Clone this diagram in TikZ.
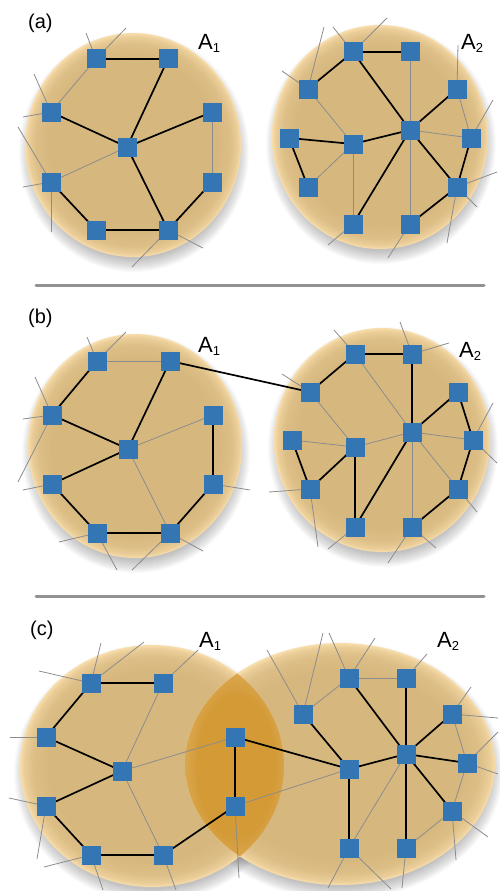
\documentclass[tikz,border=0pt]{standalone}
\usepackage{fontspec}
\setmainfont{Liberation Sans}
\pgfdeclarelayer{disks}
\pgfdeclarelayer{edges}
\pgfsetlayers{disks,edges,main}
\definecolor{dkin}{HTML}{D6B87F}
\definecolor{dkmid}{HTML}{DCBE86}
\definecolor{dkmid2}{HTML}{EACD98}
\definecolor{dkrim}{HTML}{F8DEAC}
\definecolor{lensin}{HTML}{D39A36}
\definecolor{lensout}{HTML}{DCA955}
\definecolor{nodeblue}{HTML}{3475B3}
\definecolor{edgegray}{HTML}{8C8C8C}
\definecolor{sepgray}{HTML}{929292}
\pgfdeclareradialshading{diskshade}{\pgfpoint{0bp}{0bp}}{color(0bp)=(dkin); color(19.5bp)=(dkin); color(22.5bp)=(dkmid); color(24.2bp)=(dkmid2); color(25bp)=(dkrim); color(50bp)=(dkrim)}
\pgfdeclareradialshading{lensshade}{\pgfpoint{0bp}{0bp}}{color(0bp)=(lensin); color(18bp)=(lensin); color(25bp)=(lensout); color(50bp)=(lensout)}
\tikzset{
  nd/.style={fill=nodeblue, minimum size=19pt, inner sep=0pt, outer sep=0pt},
  blk/.style={line width=1.7pt, black},
  gry/.style={line width=0.8pt, edgegray},
  sepline/.style={line width=3pt, sepgray, line cap=round},
  lbl/.style={anchor=base west, inner sep=0pt, font=\fontsize{20}{20}\selectfont},
  albl/.style={anchor=base west, inner sep=0pt, font=\fontsize{22}{22}\selectfont},
}
\newcommand\diskshadow[4]{%
  \foreach \k in {1,...,14}{\fill[black,opacity=0.02] (#1+1,#2+7) ellipse [x radius={(#3-7+\k)*1pt}, y radius={(#4-6+\k)*1pt}];}}
\newcommand\diskbody[4]{\shade[shading=diskshade] (#1,#2) ellipse [x radius=#3pt, y radius=#4pt];}
\newcommand\Asub[1]{A\raisebox{-3pt}{\fontsize{13}{13}\selectfont #1}}
\begin{document}
\begin{tikzpicture}[x=1pt,y=-1pt]
\useasboundingbox (0,0) rectangle (499,891);
% ---------- disks ----------
\begin{pgfonlayer}{disks}
  \diskshadow{133}{145}{108}{112}
  \diskshadow{380}{137}{108}{112}
  \diskshadow{135}{446}{107}{112}
  \diskshadow{382}{440}{108}{112}
  \diskshadow{152}{766}{132}{121}
  \diskshadow{340}{764}{155}{121}
  \diskbody{133}{145}{108}{112}
  \diskbody{380}{137}{108}{112}
  \diskbody{135}{446}{107}{112}
  \diskbody{382}{440}{108}{112}
  \diskbody{152}{766}{132}{121}
  \diskbody{340}{764}{155}{121}
  \begin{scope}
    \clip (152,766) ellipse [x radius=132pt, y radius=121pt];
    \clip (340,764) ellipse [x radius=155pt, y radius=121pt];
    \shade[shading=lensshade] (236,766) ellipse [x radius=54pt, y radius=98pt];
  \end{scope}
\end{pgfonlayer}
% ---------- separators ----------
\coordinate (sa1) at (36,285); \coordinate (sa2) at (484,285);
\coordinate (sb1) at (36,596); \coordinate (sb2) at (484,596);
\draw[sepline] (sa1) -- (sa2);
\draw[sepline] (sb1) -- (sb2);
% ---------- nodes ----------
\foreach \n/\x/\y in {
  a1/96/59, a2/168/59, a3/51/112, a4/212/112, a5/127/147, a6/51/182, a7/212/182, a8/96/230, a9/168/230,
  b1/353/52, b2/410/52, b3/308/89, b4/457/89, b5/289/138, b6/353/144, b7/410/130, b8/471/138, b9/308/187, b10/457/187, b11/353/224, b12/410/224,
  c1/97/361, c2/170/361, c3/52/415, c4/213/415, c5/128/449, c6/52/484, c7/213/484, c8/97/533, c9/170/533,
  d1/355/354, d2/412/354, d3/310/392, d4/458/392, d5/292/440, d6/355/447, d7/412/432, d8/473/440, d9/310/489, d10/458/489, d11/355/527, d12/412/527,
  e1/91/683, e2/163/683, e3/46/737, e4/122/771, e5/46/806, e6/91/855, e7/163/855, e8/235/737, e9/235/806,
  f1/349/678, f2/406/678, f3/303/714, f4/452/714, f5/349/769, f6/406/754, f7/467/763, f8/452/811, f9/349/848, f10/406/848}
  {\node[nd] (\n) at (\x,\y) {};}
% ---------- edges ----------
\begin{pgfonlayer}{edges}
\foreach \u/\v in {
  a1/a3, a4/a7, a5/a6,
  b2/b7, b7/b12, b3/b6, b6/b9, b6/b11, b7/b8, b4/b8,
  c1/c2, c5/c4, c5/c9,
  d1/d7, d3/d6, d5/d6, d6/d7, d7/d8, d7/d10, d7/d12,
  e2/e4, e4/e7, e4/e8, e9/f5,
  f1/f2, f1/f3, f4/f7, f7/f8, f8/f10, f6/f9}
  {\draw[gry] (\u.center) -- (\v.center);}
\foreach \n/\x/\y [count=\i] in {
  a1/86/33, a1/126/28, a3/34/74, a3/23/117, a6/18/127, a6/23/187, a6/51/232, a9/132/267, a9/203/248,
  b1/333/27, b1/387/18, b3/324/27, b3/282/71, b4/458/45, b8/493/100, b10/497/172, b10/477/207, b10/447/243, b11/328/245, b12/388/258,
  c1/87/337, c1/126/332, c3/35/377, c3/23/419, c3/18/482, c6/23/490, c7/250/490, c8/59/542, c8/117/570, c9/132/570, c9/203/551,
  d1/334/330, d2/400/322, d2/449/343, d3/282/374, d8/493/403, d8/497/463, d9/269/492, d9/318/547, d10/477/512, d11/328/549, d12/388/563, d12/436/548,
  e1/101/643, e1/144/642, e1/39/671, e2/198/650, e3/10/737, e5/9/798, e5/37/859, e6/44/867, e6/103/890, e7/176/890, e9/239/878,
  f3/267/650, f3/323/633, f1/329/633, f1/375/638, f2/427/654, f4/471/687, f4/498/718, f7/498/732, f7/498/774, f8/488/837, f8/456/860, f9/328/888, f9/391/889, f10/402/888}
  {\coordinate (st\i) at (\x,\y); \draw[gry] (\n.center) -- (st\i);}
\foreach \u/\v in {
  a1/a2, a2/a5, a3/a5, a5/a4, a5/a9, a6/a8, a8/a9, a9/a7,
  b1/b2, b1/b3, b1/b7, b7/b4, b5/b6, b6/b7, b5/b9, b7/b11, b7/b10, b8/b10, b10/b12,
  c1/c3, c3/c5, c2/c5, c5/c6, c6/c8, c8/c9, c9/c7, c7/c4, c2/d3,
  d1/d2, d1/d3, d2/d7, d7/d4, d4/d8, d8/d10, d10/d12, d7/d11, d6/d11, d6/d9, d5/d9,
  e1/e2, e1/e3, e3/e4, e4/e5, e5/e6, e6/e7, e7/e9, e8/e9, e8/f5,
  f1/f6, f2/f6, f4/f6, f6/f7, f6/f8, f6/f10, f6/f5, f3/f5, f5/f9}
  {\draw[blk] (\u.center) -- (\v.center);}
\end{pgfonlayer}
% ---------- labels ----------
\node[lbl] (la) at (28,29) {(a)};
\node[lbl] (lb) at (28,323) {(b)};
\node[lbl] (lc) at (30,635) {(c)};
\node[albl] (A1a) at (198,49) {\Asub{1}};
\node[albl] (A2a) at (461,49) {\Asub{2}};
\node[albl] (A1b) at (198,352) {\Asub{1}};
\node[albl] (A2b) at (459,357) {\Asub{2}};
\node[albl] (A1c) at (199,647) {\Asub{1}};
\node[albl] (A2c) at (437,647) {\Asub{2}};
\end{tikzpicture}
\end{document}
